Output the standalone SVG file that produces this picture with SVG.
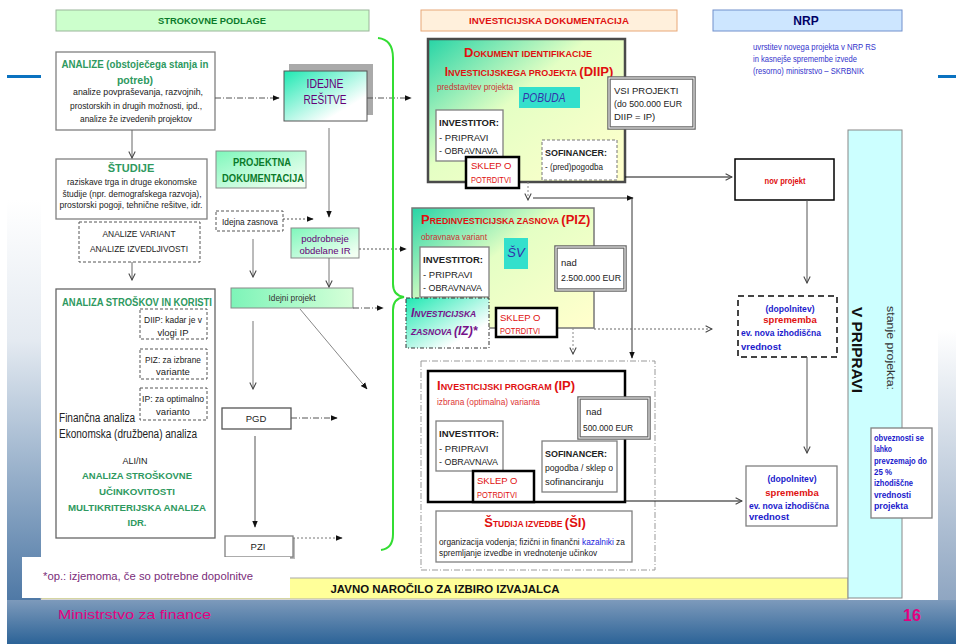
<svg xmlns="http://www.w3.org/2000/svg" width="956" height="644" viewBox="0 0 956 644">
<defs>
<style>
text{font-family:"Liberation Sans Narrow","Liberation Sans",Arial,sans-serif;font-size:9.5px;fill:#222}
.b{font-weight:bold}
.g{font-weight:bold;fill:#2e9960}
.dg{font-weight:bold;fill:#0a7a2a}
.r{fill:#e01010}
.rb{fill:#e01010;font-weight:bold}
.pu{fill:#660077}
.bl{fill:#1a1acc;font-weight:bold}
.m{text-anchor:middle}
.box{fill:#fff;stroke:#808080;stroke-width:1.3}
.dash{fill:#fff;stroke:#555;stroke-width:1;stroke-dasharray:3 2}
.sk{fill:#fff;stroke:#000;stroke-width:2.5}
.dbl{fill:#fff;stroke:#666;stroke-width:3.5}
.dbli{fill:none;stroke:#fff;stroke-width:1}
.c{fill:none;stroke:#555;stroke-width:1}
.dd{stroke-dasharray:6 2 1 2}
.dt{stroke-dasharray:2 2}
</style>
<marker id="af" viewBox="0 0 10 10" refX="9" refY="5" markerWidth="7" markerHeight="7" markerUnits="userSpaceOnUse" orient="auto"><path d="M0,1 L10,5 L0,9z" fill="#111"/></marker>
<marker id="ao" viewBox="0 0 10 10" refX="9" refY="5" markerWidth="8" markerHeight="8" markerUnits="userSpaceOnUse" orient="auto"><path d="M1,1 L9,5 L1,9" fill="none" stroke="#444" stroke-width="1.3"/></marker>
<linearGradient id="gl" x1="0" y1="0" x2="0" y2="1"><stop offset="0" stop-color="#fff"/><stop offset="0.35" stop-color="#e4eaf1"/><stop offset="1" stop-color="#4e78a5"/></linearGradient>
<linearGradient id="gb" x1="0" y1="0" x2="0" y2="1"><stop offset="0" stop-color="#7d9abb"/><stop offset="1" stop-color="#2c6397"/></linearGradient>
<linearGradient id="gr" x1="0" y1="0" x2="0" y2="1"><stop offset="0" stop-color="#fff"/><stop offset="1" stop-color="#8ea5c1"/></linearGradient>
<linearGradient id="gc" x1="0" y1="0" x2="1" y2="1"><stop offset="0" stop-color="#1ee8b2"/><stop offset="0.75" stop-color="#fff"/></linearGradient>
<linearGradient id="gg" x1="0" y1="0" x2="1" y2="1"><stop offset="0" stop-color="#7ef7bb"/><stop offset="0.9" stop-color="#f2fff2"/></linearGradient>
<linearGradient id="gh" x1="0" y1="0" x2="1" y2="0"><stop offset="0" stop-color="#7df4b8"/><stop offset="1" stop-color="#d6ffd8"/></linearGradient>
<linearGradient id="gd" x1="0" y1="0" x2="1" y2="0.9"><stop offset="0" stop-color="#26d4a6"/><stop offset="0.45" stop-color="#e4ffc4"/><stop offset="1" stop-color="#ffffcc"/></linearGradient>
</defs>
<g id="background">
<rect x="0" y="0" width="956" height="644" fill="#fff"/>
<rect x="7" y="200" width="34" height="402" fill="url(#gl)"/>
<rect x="938" y="330" width="18" height="272" fill="url(#gr)"/>
<rect x="7" y="600" width="949" height="44" fill="url(#gb)"/>
<rect x="7" y="75" width="34" height="3" fill="#0a72c0"/>
<rect x="938" y="75" width="18" height="3" fill="#0a72c0"/>
</g>
<g id="h-strokovne"><rect x="56" y="10" width="313" height="21" fill="#ccffcc" stroke="#9ab59a"/><text x="212" y="24" class="m dg" textLength="108" lengthAdjust="spacingAndGlyphs">STROKOVNE PODLAGE</text></g>
<g id="h-invest"><rect x="421" y="10" width="256" height="21" fill="#fff0dc" stroke="#e8a878"/><text x="549" y="24" class="m rb" textLength="160" lengthAdjust="spacingAndGlyphs">INVESTICIJSKA DOKUMENTACIJA</text></g>
<g id="h-nrp"><rect x="713" y="10" width="189" height="21" fill="#cde6ff" stroke="#7090cc"/><text x="806" y="25" class="m b" style="font-size:12px;fill:#000066">NRP</text></g>
<g id="nrp-text"><text x="753" y="50" style="fill:#3333cc;font-size:9px" textLength="123" lengthAdjust="spacingAndGlyphs">uvrstitev novega projekta v NRP  RS</text><text x="753" y="62" style="fill:#3333cc;font-size:9px" textLength="104" lengthAdjust="spacingAndGlyphs">in kasnejše spremembe izvede</text><text x="753" y="74" style="fill:#3333cc;font-size:9px" textLength="111" lengthAdjust="spacingAndGlyphs">(resorno) ministrstvo – SKRBNIK</text></g>

<g id="analize"><rect x="56" y="52" width="159" height="78" class="box"/>
<text x="135" y="68" class="m g" style="font-size:10.5px" textLength="147" lengthAdjust="spacingAndGlyphs">ANALIZE (obstoječega stanja in</text>
<text x="135" y="84" class="m g" style="font-size:10.5px">potreb)</text>
<text x="138" y="95" class="m" textLength="130" lengthAdjust="spacingAndGlyphs">analize povpraševanja, razvojnih,</text>
<text x="136" y="109" class="m" textLength="132" lengthAdjust="spacingAndGlyphs">prostorskih in drugih možnosti, ipd.,</text>
<text x="136" y="122" class="m" textLength="112" lengthAdjust="spacingAndGlyphs">analize že izvedenih projektov</text></g>
<g id="studije"><rect x="56" y="159" width="151" height="60" class="box"/>
<text x="131" y="172" class="m g" style="font-size:11px">ŠTUDIJE</text>
<text x="132" y="185" class="m" textLength="130" lengthAdjust="spacingAndGlyphs">raziskave trga in druge ekonomske</text>
<text x="132" y="197" class="m" textLength="139" lengthAdjust="spacingAndGlyphs">študije (npr. demografskega razvoja),</text>
<text x="131" y="208" class="m" textLength="143" lengthAdjust="spacingAndGlyphs">prostorski pogoji, tehnične rešitve,  idr.</text></g>
<g id="variant"><rect x="79" y="222" width="121" height="40" class="dash"/>
<text x="139" y="237" class="m" textLength="73" lengthAdjust="spacingAndGlyphs">ANALIZE VARIANT</text>
<text x="139" y="252" class="m" textLength="98" lengthAdjust="spacingAndGlyphs">ANALIZE IZVEDLJIVOSTI</text></g>
<g id="ask"><rect x="56" y="289" width="159" height="249" class="box" style="stroke:#666"/>
<text x="137" y="306" class="m g" style="font-size:10.5px" textLength="150" lengthAdjust="spacingAndGlyphs">ANALIZA STROŠKOV IN KORISTI</text>
<rect x="140" y="309" width="67" height="30" class="dash"/>
<text x="173" y="323" class="m" textLength="58" lengthAdjust="spacingAndGlyphs">DIIP: kadar je v</text><text x="173" y="336" class="m">vlogi IP</text>
<rect x="140" y="349" width="67" height="30" class="dash"/>
<text x="173" y="363" class="m" textLength="56" lengthAdjust="spacingAndGlyphs">PIZ: za izbrane</text><text x="173" y="375" class="m">variante</text>
<rect x="140" y="388" width="67" height="32" class="dash"/>
<text x="173" y="402" class="m" textLength="62" lengthAdjust="spacingAndGlyphs">IP: za optimalno</text><text x="173" y="415" class="m">varianto</text>
<text x="59" y="422" style="font-size:12px" textLength="76" lengthAdjust="spacingAndGlyphs">Finančna analiza</text>
<text x="59" y="438" style="font-size:12px" textLength="138" lengthAdjust="spacingAndGlyphs">Ekonomska (družbena) analiza</text>
<text x="135" y="464" class="m" style="font-size:9px">ALI/IN</text>
<text x="137" y="479" class="m g" textLength="110" lengthAdjust="spacingAndGlyphs">ANALIZA STROŠKOVNE</text>
<text x="137" y="495" class="m g" textLength="76" lengthAdjust="spacingAndGlyphs">UČINKOVITOSTI</text>
<text x="137" y="511" class="m g" textLength="138" lengthAdjust="spacingAndGlyphs">MULTIKRITERIJSKA ANALIZA</text>
<text x="137" y="526" class="m g">IDR.</text></g>

<g id="idejne"><rect x="289" y="64" width="84" height="51" fill="#aaa"/><rect x="284" y="71" width="83" height="50" fill="url(#gc)" stroke="#555"/>
<text x="325" y="88" class="m pu" style="font-size:13px" textLength="37" lengthAdjust="spacingAndGlyphs">IDEJNE</text>
<text x="325" y="104" class="m pu" style="font-size:13px" textLength="43" lengthAdjust="spacingAndGlyphs">REŠITVE</text></g>
<g id="projektna"><rect x="216" y="151" width="90" height="37" fill="url(#gg)" stroke="#888"/>
<text x="262" y="166" class="m dg" style="font-size:10.5px" textLength="58" lengthAdjust="spacingAndGlyphs">PROJEKTNA</text>
<text x="263" y="182" class="m dg" style="font-size:10.5px" textLength="82" lengthAdjust="spacingAndGlyphs">DOKUMENTACIJA</text></g>
<g id="idejna-zasnova"><rect x="216" y="211" width="67" height="20" class="dash"/><text x="250" y="225" class="m" textLength="56" lengthAdjust="spacingAndGlyphs">Idejna zasnova</text></g>
<g id="podrobneje"><rect x="291" y="228" width="68" height="30" fill="url(#gg)" stroke="#888"/>
<text x="325" y="242" class="m pu">podrobneje</text><text x="325" y="254" class="m pu">obdelane IR</text></g>
<g id="idejni-projekt"><rect x="231" y="288" width="122" height="20" fill="url(#gh)" stroke="#888"/><text x="292" y="301" class="m" style="fill:#333" textLength="47" lengthAdjust="spacingAndGlyphs">Idejni projekt</text></g>
<g id="pgd"><rect x="222" y="408" width="69" height="21" class="box" style="stroke:#555"/><text x="256" y="422" class="m">PGD</text></g>
<g id="pzi"><rect x="227" y="538" width="68" height="21" fill="#bbb"/><rect x="225" y="536" width="68" height="21" class="box"/><text x="258" y="550" class="m">PZI</text></g>

<g id="diip"><rect x="428" y="39" width="197" height="143" fill="url(#gd)" stroke="#4a4a4a" stroke-width="2.5"/>
<text x="528" y="57" class="m rb" style="font-size:9px"><tspan style="font-size:13px">D</tspan>OKUMENT IDENTIFIKACIJE</text>
<text x="529" y="76" class="m rb" style="font-size:9px"><tspan style="font-size:12px">I</tspan>NVESTICIJSKEGA PROJEKTA <tspan style="font-size:13px">(DIIP)</tspan></text>
<text x="437" y="90" style="fill:#cc3333;font-size:9px" textLength="76" lengthAdjust="spacingAndGlyphs">predstavitev projekta</text>
<rect x="519" y="87" width="61" height="21" fill="#33e0cc"/>
<text x="544" y="102" class="m" style="font-size:12px;font-style:italic;fill:#3333aa" textLength="43" lengthAdjust="spacingAndGlyphs">POBUDA</text>
<rect x="609" y="78" width="85" height="50" class="dbl"/><rect x="609" y="78" width="85" height="50" class="dbli"/>
<text x="614" y="94">VSI PROJEKTI</text><text x="614" y="107" textLength="68" lengthAdjust="spacingAndGlyphs">(do 500.000  EUR</text><text x="614" y="120">DIIP = IP)</text>
<rect x="436" y="110" width="67" height="51" class="box"/>
<text x="439" y="126" class="b" textLength="60" lengthAdjust="spacingAndGlyphs">INVESTITOR:</text><text x="439" y="141">- PRIPRAVI</text><text x="439" y="154" textLength="59" lengthAdjust="spacingAndGlyphs">- OBRAVNAVA</text>
<rect x="466" y="157" width="53" height="31" class="sk"/>
<text x="471" y="169" class="r">SKLEP O</text><text x="471" y="183" class="r" textLength="40" lengthAdjust="spacingAndGlyphs">POTRDITVI</text>
<rect x="542" y="140" width="75" height="40" class="dash" style="stroke:#777"/>
<text x="545" y="156" class="b" textLength="62" lengthAdjust="spacingAndGlyphs">SOFINANCER:</text><text x="545" y="170" textLength="58" lengthAdjust="spacingAndGlyphs">- (pred)pogodba</text></g>

<g id="piz"><rect x="412" y="208" width="182" height="120" fill="url(#gd)" stroke="#777" stroke-width="1.5"/>
<text x="421" y="224" class="rb" style="font-size:8.8px"><tspan style="font-size:13px">P</tspan>REDINVESTICIJSKA ZASNOVA <tspan style="font-size:13px">(PIZ)</tspan></text>
<text x="421" y="240" style="fill:#cc3333;font-size:9px" textLength="66" lengthAdjust="spacingAndGlyphs">obravnava variant</text>
<rect x="504" y="238" width="24" height="31" fill="#33e0cc"/>
<text x="516" y="257" class="m" style="font-size:13px;font-style:italic;fill:#3333aa">ŠV</text>
<rect x="556" y="247" width="69" height="43" class="dbl"/><rect x="556" y="247" width="69" height="43" class="dbli"/>
<text x="561" y="266">nad</text><text x="561" y="281" textLength="60" lengthAdjust="spacingAndGlyphs">2.500.000  EUR</text>
<rect x="420" y="247" width="69" height="50" class="box"/>
<text x="423" y="263" class="b" textLength="60" lengthAdjust="spacingAndGlyphs">INVESTITOR:</text><text x="423" y="278">- PRIPRAVI</text><text x="423" y="291" textLength="59" lengthAdjust="spacingAndGlyphs">- OBRAVNAVA</text></g>
<g id="iz"><rect x="406" y="298" width="83" height="50" fill="url(#gc)" stroke="#333" stroke-dasharray="4 2 1 2"/>
<text x="411" y="317" class="b" style="fill:#77118a;font-style:italic;font-size:8.5px"><tspan style="font-size:12px">I</tspan>NVESTICIJSKA</text>
<text x="411" y="335" class="b" style="fill:#77118a;font-style:italic;font-size:8.5px">ZASNOVA <tspan style="font-size:12px">(IZ)*</tspan></text></g>
<g id="piz-sklep"><rect x="496" y="308" width="61" height="29" class="sk"/>
<text x="500" y="321" class="r">SKLEP O</text><text x="500" y="334" class="r" textLength="40" lengthAdjust="spacingAndGlyphs">POTRDITVI</text></g>

<g id="ip-area"><rect x="421" y="361" width="234" height="209" fill="none" stroke="#999" stroke-dasharray="6 2 1 2"/></g>
<g id="ip"><rect x="428" y="371" width="197" height="131" fill="#fff" stroke="#000" stroke-width="2.5"/>
<text x="437" y="390" class="rb" style="font-size:9px"><tspan style="font-size:13px">I</tspan>NVESTICIJSKI PROGRAM <tspan style="font-size:13px">(IP)</tspan></text>
<text x="437" y="405" style="fill:#dd3333;font-size:9px" textLength="103" lengthAdjust="spacingAndGlyphs">izbrana (optimalna) varianta</text>
<rect x="579" y="398" width="70" height="40" class="dbl"/><rect x="579" y="398" width="70" height="40" class="dbli"/>
<text x="586" y="415">nad</text><text x="583" y="431" textLength="50" lengthAdjust="spacingAndGlyphs">500.000 EUR</text>
<rect x="436" y="421" width="67" height="50" class="box"/>
<text x="439" y="437" class="b" textLength="60" lengthAdjust="spacingAndGlyphs">INVESTITOR:</text><text x="439" y="452">- PRIPRAVI</text><text x="439" y="465" textLength="59" lengthAdjust="spacingAndGlyphs">- OBRAVNAVA</text>
<rect x="542" y="441" width="75" height="51" class="box"/>
<text x="545" y="457" class="b" textLength="62" lengthAdjust="spacingAndGlyphs">SOFINANCER:</text><text x="545" y="471" textLength="68" lengthAdjust="spacingAndGlyphs">pogodba / sklep o</text><text x="545" y="485">sofinanciranju</text>
<rect x="473" y="471" width="61" height="31" class="sk"/>
<text x="477" y="484" class="r">SKLEP O</text><text x="477" y="498" class="r" textLength="40" lengthAdjust="spacingAndGlyphs">POTRDITVI</text></g>
<g id="si"><rect x="436" y="511" width="196" height="51" class="box"/>
<text x="535" y="527" class="m rb" style="font-size:8.5px"><tspan style="font-size:13px">Š</tspan>TUDIJA IZVEDBE <tspan style="font-size:13px">(ŠI)</tspan></text>
<text x="439" y="545" style="font-size:8.3px">organizacija vodenja; fizični in finančni <tspan style="fill:#2222dd">kazalniki</tspan> za</text>
<text x="439" y="556" style="font-size:8.3px">spremljanje izvedbe in vrednotenje učinkov</text></g>

<g id="nov-projekt"><rect x="735" y="159" width="99" height="41" fill="#fff" stroke="#000" stroke-width="1.5"/><text x="785" y="184" class="m rb" textLength="41" lengthAdjust="spacingAndGlyphs">nov projekt</text></g>
<g id="dopolnitev1"><rect x="738" y="296" width="99" height="61" fill="#fff" stroke="#444" stroke-width="2" stroke-dasharray="6 4"/>
<text x="790" y="312" class="m bl" textLength="49" lengthAdjust="spacingAndGlyphs">(dopolnitev)</text>
<text x="790" y="323" class="m rb">sprememba</text>
<text x="741" y="336" class="bl" textLength="80" lengthAdjust="spacingAndGlyphs">ev. nova izhodiščna</text>
<text x="741" y="350" class="bl">vrednost</text></g>
<g id="dopolnitev2"><rect x="746" y="466" width="91" height="60" class="box"/>
<text x="792" y="482" class="m bl" textLength="49" lengthAdjust="spacingAndGlyphs">(dopolnitev)</text>
<text x="792" y="496" class="m rb">sprememba</text>
<text x="749" y="509" class="bl" textLength="80" lengthAdjust="spacingAndGlyphs">ev. nova izhodiščna</text>
<text x="749" y="520" class="bl">vrednost</text></g>

<g id="javno"><rect x="41" y="578" width="807" height="21" fill="#ffff99" stroke="#aaa"/><text x="445" y="593" class="m b" style="font-size:11px;fill:#111" textLength="229" lengthAdjust="spacingAndGlyphs">JAVNO NAROČILO ZA IZBIRO IZVAJALCA</text></g>
<g id="v-pripravi"><rect x="848" y="130" width="54" height="468" fill="#ccffff" stroke="#888"/>
<text transform="translate(852,350) rotate(90)" x="0" y="0" class="m b" style="font-size:14px;fill:#111" textLength="86" lengthAdjust="spacingAndGlyphs">V PRIPRAVI</text>
<text transform="translate(887,348) rotate(90)" x="0" y="0" class="m" style="font-size:11px;fill:#333" textLength="84" lengthAdjust="spacingAndGlyphs">stanje projekta:</text></g>
<g id="obveznosti"><rect x="871" y="428" width="61" height="90" class="box"/>
<text x="874" y="441" class="bl" style="font-size:9px" textLength="50" lengthAdjust="spacingAndGlyphs">obveznosti se</text>
<text x="874" y="452" class="bl" style="font-size:9px" textLength="18" lengthAdjust="spacingAndGlyphs">lahko</text>
<text x="874" y="464" class="bl" style="font-size:9px" textLength="53" lengthAdjust="spacingAndGlyphs">prevzemajo do</text>
<text x="874" y="475" class="bl" style="font-size:9px" textLength="18" lengthAdjust="spacingAndGlyphs">25 %</text>
<text x="874" y="486" class="bl" style="font-size:9px" textLength="39" lengthAdjust="spacingAndGlyphs">izhodiščne</text>
<text x="874" y="498" class="bl" style="font-size:9px" textLength="37" lengthAdjust="spacingAndGlyphs">vrednosti</text>
<text x="874" y="509" class="bl" style="font-size:9px" textLength="34" lengthAdjust="spacingAndGlyphs">projekta</text></g>

<g id="connectors">
<path d="M132,130 V158" class="c" marker-end="url(#ao)" style="stroke:#666"/>
<path d="M132,262 V280" class="c" marker-end="url(#ao)" style="stroke:#666"/>
<path d="M215,98 H279" class="c dd" marker-end="url(#af)"/>
<path d="M367,98 H411" class="c dd" marker-end="url(#af)"/>
<path d="M329,128 V217" class="c" marker-end="url(#af)" style="stroke:#777"/>
<path d="M283,219 H313" class="c dt" marker-end="url(#af)"/>
<path d="M253,239 V277" class="c" marker-end="url(#ao)" style="stroke:#777"/>
<path d="M359,249 H406" class="c dt" marker-end="url(#af)"/>
<path d="M329,258 V287" class="c" marker-end="url(#ao)" style="stroke:#777"/>
<path d="M353,308 H383" class="c dd" marker-end="url(#af)"/>
<path d="M300,309 L367,389" class="c" marker-end="url(#af)" style="stroke:#888"/>
<path d="M253,321 V389" class="c" marker-end="url(#ao)" style="stroke:#777"/>
<path d="M291,418 H337" class="c dd" marker-end="url(#af)"/>
<path d="M255,436 V527" class="c" marker-end="url(#af)"/>
<path d="M293,538 H342" class="c dt" marker-end="url(#af)" style="stroke:#777"/>
<path d="M378,38 C388,39 393,46 393,58 L393,284 C393,292 397,296 404,297 C397,298 393,302 393,310 L393,534 C393,544 389,549 381,550" fill="none" stroke="#33dd33" stroke-width="2"/>
<path d="M625,177 H732" class="c" marker-end="url(#ao)" style="stroke:#111"/>
<path d="M528,182 V200" class="c dt" marker-end="url(#ao)" style="stroke:#888"/>
<path d="M533,198 H633" class="c" marker-end="url(#af)" style="stroke:#333"/>
<path d="M632,198 V358" class="c" marker-end="url(#af)" style="stroke:#333"/>
<path d="M594,329 H712" class="c dt" marker-end="url(#ao)" style="stroke:#666"/>
<path d="M573,328 V354" class="c dt" marker-end="url(#ao)" style="stroke:#888"/>
<path d="M625,501 H742" class="c" marker-end="url(#ao)" style="stroke:#111"/>
<path d="M807,200 V283" class="c" marker-end="url(#ao)"/>
<path d="M807,357 V453" class="c" marker-end="url(#ao)"/>
</g>
<g id="note"><rect x="22" y="557" width="268" height="41" fill="#fff"/><text x="43" y="580" style="font-size:10px;fill:#7a2d7a" textLength="210" lengthAdjust="spacingAndGlyphs">*op.: izjemoma, če so potrebne dopolnitve</text></g>
<g id="footer"><text x="58" y="619" style="font-size:13px;fill:#e4007f" textLength="153" lengthAdjust="spacingAndGlyphs">Ministrstvo za finance</text><text x="903" y="621" class="b" style="font-size:16px;fill:#e4007f">16</text></g>
</svg>
